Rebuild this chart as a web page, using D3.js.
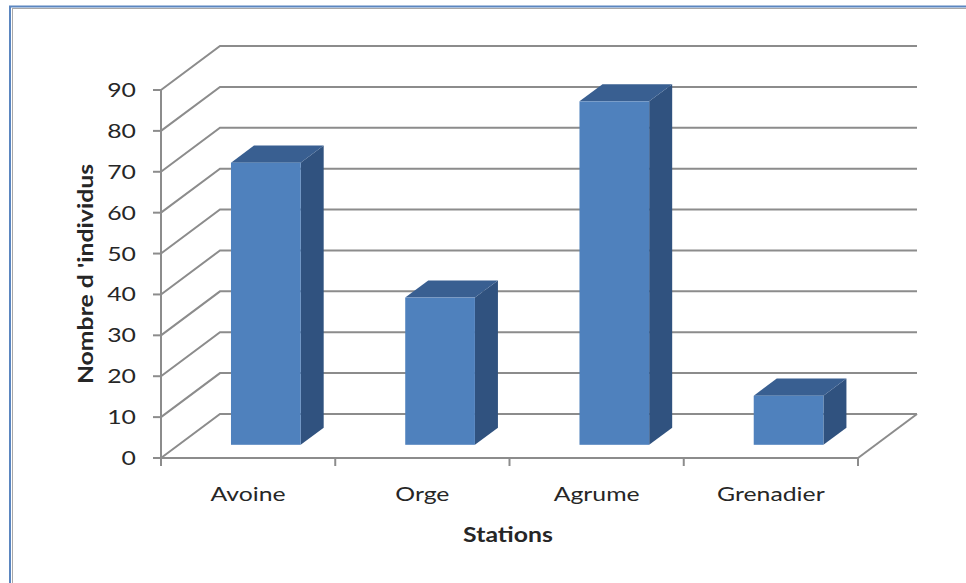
<!DOCTYPE html>
<html>
<head>
<meta charset="utf-8">
<script src="https://cdn.jsdelivr.net/npm/d3@7"></script>
<style>
  html, body { margin: 0; padding: 0; background: #fff; }
  svg { display: block; }
  text { font-family: Lato, "Open Sans", sans-serif; fill: #262626; }
</style>
</head>
<body>
<svg id="chart" width="966" height="583"></svg>
<script>
// Data
const stations = ["Avoine", "Orge", "Agrume", "Grenadier"];
const individus = [69, 36, 84, 12];
const yTicks = [0, 10, 20, 30, 40, 50, 60, 70, 80, 90];
const yTitle = "Nombre d 'individus";
const xTitle = "Stations";

const svg = d3.select("#chart");
const stretch = 1.24; // text is drawn slightly widened

// Chart frame
svg.append("rect").attr("x", 10).attr("y", 6.5).attr("width", 1000).attr("height", 1000)
  .attr("fill", "none").attr("stroke", "#5b86c0").attr("stroke-width", 2);
svg.append("rect").attr("x", 12.5).attr("y", 8.5).attr("width", 1000).attr("height", 1000)
  .attr("fill", "none").attr("stroke", "#a8a8a8").attr("stroke-width", 1);

// Plot geometry (front plane) and depth offset of the 3D box
const plotL = 161, plotR = 858, plotB = 458, plotT = 90;
const depthX = 59, depthY = 44;
const barFront = 0.3, barBack = 0.69;

const x = d3.scaleBand().domain(stations).range([plotL, plotR])
  .paddingInner(0.6).paddingOuter(0.3);
const step = x.step();
const y = d3.scaleLinear().domain([0, 90]).range([plotB, plotT]);

// project a point on the front plane back to a given depth fraction
const P = (px, v, d) => [px + d * depthX, y(v) - d * depthY];

const grid = svg.append("g").attr("stroke", "#8c8c8c").attr("stroke-width", 2)
  .attr("fill", "none");

// side wall diagonals and back wall gridlines
yTicks.forEach(v => {
  const a = P(plotL, v, 0), b = P(plotL, v, 1), c = P(plotR, v, 1);
  grid.append("path").attr("d", d3.line()([a, b, c]));
});
// floor right edge
grid.append("path").attr("d", d3.line()([P(plotR, 0, 0), P(plotR, 0, 1)]));

// Y axis
const axis = svg.append("g").attr("stroke", "#8c8c8c").attr("stroke-width", 2);
axis.append("line").attr("x1", plotL).attr("x2", plotL).attr("y1", y(90)).attr("y2", y(0) + 1);
yTicks.forEach(v => {
  axis.append("line").attr("x1", plotL - 8).attr("x2", plotL).attr("y1", y(v)).attr("y2", y(v));
});
// X axis
axis.append("line").attr("x1", plotL).attr("x2", plotR).attr("y1", plotB).attr("y2", plotB);
d3.range(stations.length + 1).forEach(i => {
  const px = plotL + i * step;
  axis.append("line").attr("x1", px).attr("x2", px).attr("y1", plotB).attr("y2", plotB + 8);
});

// Y tick labels
svg.append("g").selectAll("text").data(yTicks).join("text")
  .attr("transform", d => `translate(136,${y(d)}) scale(${stretch},1)`)
  .attr("dy", "0.35em").attr("text-anchor", "end")
  .attr("font-size", 20).text(d => d);

// Category labels
svg.append("g").selectAll("text").data(stations).join("text")
  .attr("transform", d => `translate(${x(d) + x.bandwidth() / 2},494) scale(${stretch},1)`)
  .attr("dy", "0.35em").attr("text-anchor", "middle")
  .attr("font-size", 20).text(d => d);

// Axis titles
svg.append("text").attr("transform", `translate(508,535) scale(${stretch},1)`)
  .attr("dy", "0.35em")
  .attr("text-anchor", "middle").attr("font-size", 20).attr("font-weight", "bold")
  .text(xTitle);
svg.append("text").attr("transform", `translate(86,274) rotate(-90) scale(${stretch},1)`)
  .attr("dy", "0.35em").attr("text-anchor", "middle")
  .attr("font-size", 20).attr("font-weight", "bold").text(yTitle);

// 3D bars
const bars = svg.append("g");
stations.forEach((s, i) => {
  const v = individus[i];
  const x0 = x(s), x1 = x(s) + x.bandwidth();
  const g = bars.append("g");
  const poly = pts => d3.line()(pts) + "Z";
  // side face
  g.append("path").attr("fill", "#30527f").attr("d", poly([
    P(x1, 0, barFront), P(x1, v, barFront), P(x1, v, barBack), P(x1, 0, barBack)
  ]));
  // top face
  g.append("path").attr("fill", "#395f91").attr("d", poly([
    P(x0, v, barFront), P(x1, v, barFront), P(x1, v, barBack), P(x0, v, barBack)
  ]));
  // front face
  const f0 = P(x0, v, barFront), f1 = P(x1, 0, barFront);
  g.append("rect").attr("x", f0[0]).attr("y", f0[1])
    .attr("width", f1[0] - f0[0]).attr("height", f1[1] - f0[1])
    .attr("fill", "#4f81bd");
});
</script>
</body>
</html>
